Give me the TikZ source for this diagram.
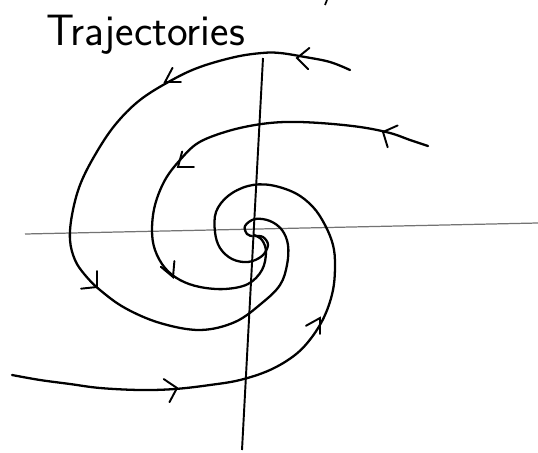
\documentclass[tikz,border=0pt]{standalone}
\tikzset{
  trajectory/.style={line width=1.3pt, line cap=round, line join=round},
  arrowstroke/.style={line width=1.1pt, line cap=round},
}
% chevron on a trajectory: tip at (#1,#2), arms at angles #3 and #4
\newcommand{\trajtip}[4]{\draw[arrowstroke] (#1,#2) ++(#3:16) -- (#1,#2) -- ++(#4:16);}
\begin{document}
\begin{tikzpicture}[x=0.02cm, y=-0.02cm]
        \useasboundingbox (0,0) rectangle (538,453);

        % Ejes
        \draw[line width=0.7pt, black!55] (25,234) -- (538,223);
        \draw[line width=1.1pt] (263,58) -- (242,450);
        \draw[line width=1pt] (327,0) -- (325,5);

        % Titulo
        \node[anchor=base west, font=\sffamily\fontsize{25}{27}\selectfont] (title) at (40,46) {Trajectories};

        % Trayectoria exterior (arriba)
        \draw[trajectory] plot[smooth, tension=0.6] coordinates {(350,70) (330,62) (305,57) (280,53) (262,53) (235,57) (200,67) (172,80) (140,100) (115,125) (95,155) (80,185) (72,215) (70,240) (75,260) (85,275) (100,290) (125,308) (160,323) (200,330) (235,322) (262,303) (280,285) (287,265) (288,245) (282,230) (270,221) (255,219) (245,226) (247,234) (252,236)};
        \trajtip{297}{58}{-39}{45}
        \trajtip{165}{82}{0}{-62}
        \trajtip{97}{287}{-90}{174}

        % Trayectoria media
        \draw[trajectory] plot[smooth, tension=0.6] coordinates {(428,146) (410,140) (390,133) (360,127) (320,123) (285,122) (255,125) (225,132) (198,143) (180,160) (165,180) (155,205) (152,230) (155,250) (165,268) (180,280) (200,287) (225,289) (248,284) (262,270) (266,252) (262,240) (254,235)};
        \trajtip{383}{132}{-24}{73}
        \trajtip{178}{167}{-75}{0}
        \trajtip{173}{277}{-85}{-140}

        % Trayectoria inferior
        \draw[trajectory] plot[smooth, tension=0.6] coordinates {(12,375) (40,380) (70,384) (100,388) (140,390) (175,389) (210,385) (240,380) (270,370) (295,355) (312,337) (325,315) (333,290) (335,265) (333,245) (325,225) (313,207) (295,193) (270,185) (248,186) (228,196) (216,212) (215,232) (220,248) (232,259) (248,262) (262,256) (268,245) (263,237) (255,236)};
        \trajtip{177}{388}{214}{118}
        \trajtip{320}{318}{151}{90}
    \end{tikzpicture}
\end{document}
